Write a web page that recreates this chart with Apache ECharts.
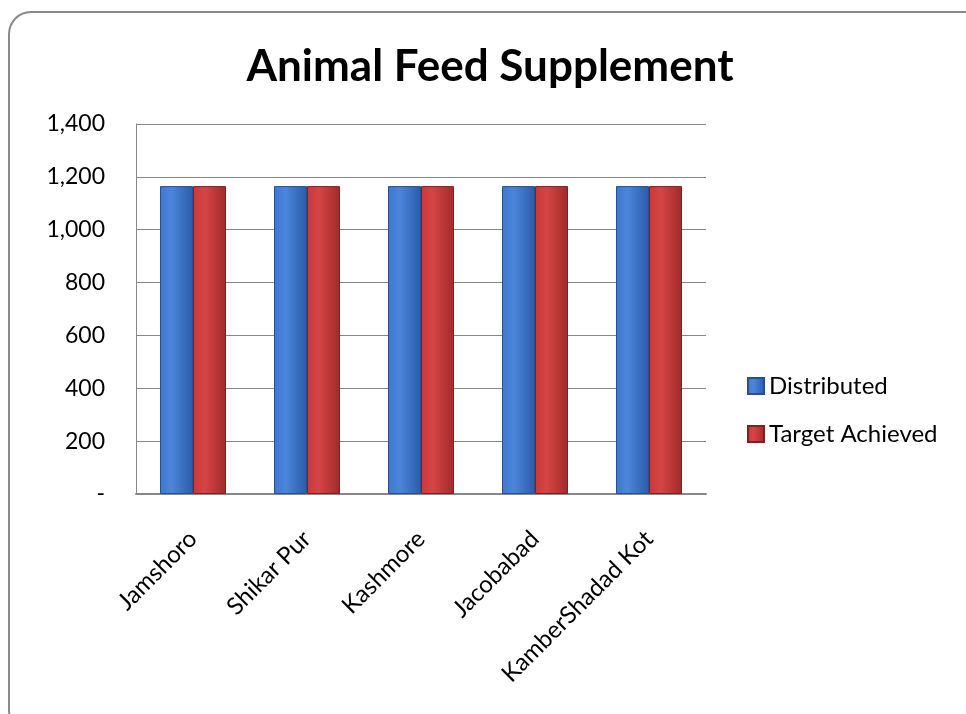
<!DOCTYPE html>
<html><head><meta charset="utf-8">
<script src="https://cdn.jsdelivr.net/npm/echarts@6/dist/echarts.min.js"></script>
<style>html,body{margin:0;padding:0;background:#fff}#c{width:966px;height:714px}</style>
</head><body><div id="c"></div>
<script>
const categories = ["Jamshoro", "Shikar Pur", "Kashmore", "Jacobabad", "KamberShadad Kot"];
const distributed = [1165, 1165, 1165, 1165, 1165];
const targetAchieved = [1165, 1165, 1165, 1165, 1165];
const seriesNames = ["Distributed", "Target Achieved"];

const FONT = "Lato, 'Open Sans', sans-serif";
function grad(c1, c2, c3) {
  return new echarts.graphic.LinearGradient(0, 0, 1, 0, [
    {offset: 0, color: c1}, {offset: 0.35, color: c2}, {offset: 1, color: c3}
  ]);
}
const chart = echarts.init(document.getElementById('c'), null, {renderer: 'canvas'});
chart.setOption({
  backgroundColor: '#fff',
  animation: false,
  graphic: [{
    type: 'rect', shape: {x: 9, y: 12, width: 980, height: 720, r: 22},
    style: {fill: 'none', stroke: '#8a8a8a', lineWidth: 2}, z: -1
  }],
  title: {
    text: 'Animal Feed Supplement', left: 485, top: 40, textAlign: 'center',
    textStyle: {fontFamily: FONT, fontSize: 44, fontWeight: 'bold', color: '#000'}
  },
  legend: {
    orient: 'vertical', left: 747, top: 374, padding: 0, itemWidth: 16, itemHeight: 16, itemGap: 24,
    icon: 'rect',
    textStyle: {fontFamily: FONT, fontSize: 24, color: '#000'},
    data: seriesNames
  },
  grid: {left: 136, right: 260, top: 124, bottom: 220, containLabel: false},
  xAxis: {
    type: 'category', data: categories,
    axisLine: {lineStyle: {color: '#888', width: 2}},
    axisTick: {show: false},
    axisLabel: {rotate: 45, fontFamily: FONT, fontSize: 24, color: '#000', margin: 41, interval: 0}
  },
  yAxis: {
    type: 'value', min: 0, max: 1400, interval: 200,
    axisLine: {show: true, lineStyle: {color: '#888', width: 1}},
    splitLine: {lineStyle: {color: '#888', width: 1}},
    axisLabel: {
      fontFamily: FONT, fontSize: 23, color: '#000', margin: 31,
      formatter: v => v === 0 ? '-' : v.toLocaleString('en-US')
    }
  },
  series: [
    {name: seriesNames[0], type: 'bar', data: distributed, barWidth: 33, barGap: '0%',
     itemStyle: {color: grad('#3d78cf', '#4b86db', '#2b5ba8'), borderColor: '#2a4f8a', borderWidth: 1}},
    {name: seriesNames[1], type: 'bar', data: targetAchieved, barWidth: 33,
     itemStyle: {color: grad('#c93838', '#d64545', '#a02a2a'), borderColor: '#7d2222', borderWidth: 1}}
  ]
});
</script></body></html>
